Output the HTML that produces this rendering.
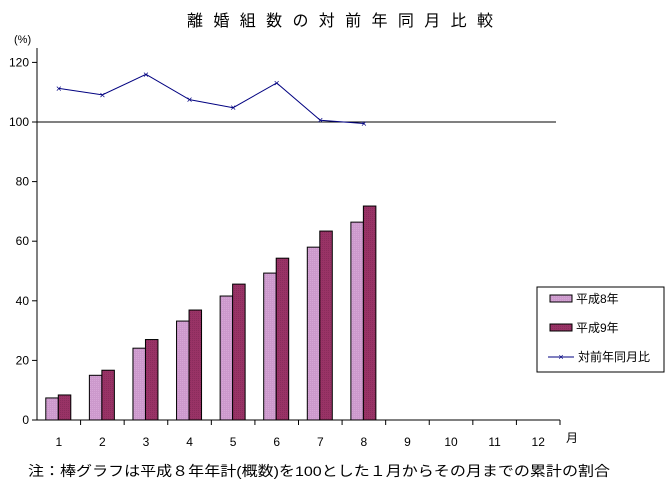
<!DOCTYPE html>
<html><head><meta charset="utf-8"><style>
body{margin:0;background:#fff;}
svg text{font-family:"Liberation Sans","Noto Sans CJK JP",sans-serif;}
</style></head><body>
<svg width="670" height="490" xmlns="http://www.w3.org/2000/svg" id="c">
<defs>
<pattern id="p1" width="2" height="2" patternUnits="userSpaceOnUse"><rect width="2" height="2" fill="#cc99cc"/><rect width="1" height="1" fill="#d6a6d6"/></pattern>
<pattern id="p2" width="2" height="2" patternUnits="userSpaceOnUse"><rect width="2" height="2" fill="#993366"/><rect width="1" height="1" fill="#8a2c5c"/></pattern>
</defs>
<text x="187" y="26" textLength="306" lengthAdjust="spacing" font-size="16">離婚組数の対前年同月比較</text>
<text x="14" y="43" font-size="11">(%)</text>
<g id="plot"></g>
<text x="28" y="476" font-size="14" textLength="582" lengthAdjust="spacingAndGlyphs">注：棒グラフは平成８年年計(概数)を100とした１月からその月までの累計の割合</text>
<g>
<rect x="537" y="287" width="127" height="85" fill="#fff" stroke="#000"/>
<rect x="550" y="295" width="22" height="7" fill="url(#p1)" stroke="#000"/>
<text x="576" y="303" font-size="12">平成8年</text>
<rect x="550" y="324" width="22" height="7" fill="url(#p2)" stroke="#000"/>
<text x="576" y="332" font-size="12">平成9年</text>
<line x1="548" y1="357" x2="574" y2="357" stroke="#000080"/>
<text x="561" y="360" font-size="9" fill="#000080" text-anchor="middle">×</text>
<text x="578" y="361" font-size="12">対前年同月比</text>
</g>
</svg>
<script>
const categories=["1","2","3","4","5","6","7","8","9","10","11","12"];
const h8=[7.4,15.0,24.1,33.2,41.6,49.3,58.0,66.4];
const h9=[8.4,16.7,27.0,36.9,45.6,54.3,63.4,71.8];
const ratio=[111.3,109.1,116.0,107.5,104.8,113.1,100.6,99.5];
const yTicks=[0,20,40,60,80,100,120];
const NS="http://www.w3.org/2000/svg";
const g=document.getElementById('plot');
const x0=37,x1=560,bw=(x1-x0)/categories.length;
const y=v=>420-v*2.98;
const xc=i=>x0+bw*(i+0.5);
function mk(t,a){const e=document.createElementNS(NS,t);for(const k in a)e.setAttribute(k,a[k]);g.appendChild(e);return e;}
let e=mk('line',{x1:x0,y1:48,x2:x0,y2:420,stroke:'#000'});


yTicks.forEach(v=>{
 let t=mk('line',{x1:x0-5,y1:y(v),x2:x0,y2:y(v),stroke:'#000'});
 
 
 let l=mk('text',{x:x0-8,y:y(v)+4,'font-size':12,'text-anchor':'end'});l.textContent=v;
 
 
});
categories.forEach((c,i)=>{
 let t=mk('line',{x1:x0+bw*(i+1),y1:420,x2:x0+bw*(i+1),y2:425,stroke:'#000'});
 
 
 let l=mk('text',{x:xc(i),y:446,'font-size':12,'text-anchor':'middle'});l.textContent=c;
 
 
});
let xu=mk('text',{x:566,y:442,'font-size':12});xu.textContent='月';


h8.forEach((v,i)=>{
 let r=mk('rect',{x:xc(i)-13,y:y(v),width:12.5,height:420-y(v),fill:'url(#p1)',stroke:'#000'});
 
 
});
h9.forEach((v,i)=>{
 let r=mk('rect',{x:xc(i)-0.5,y:y(v),width:12.5,height:420-y(v),fill:'url(#p2)',stroke:'#000'});
 
 
});
let xa=mk('line',{x1:x0,y1:420,x2:x1,y2:420,stroke:'#000'});


let ref=mk('line',{x1:x0,y1:y(100),x2:556,y2:y(100),stroke:'#000'});


let pl=mk('polyline',{points:ratio.map((v,i)=>xc(i)+','+y(v)).join(' '),fill:'none',stroke:'#000080'});


ratio.forEach((v,i)=>{
 let m=mk('text',{x:xc(i),y:y(v)+3.5,'font-size':10,fill:'#000080','text-anchor':'middle'});m.textContent='×';
 
 
});
</script>
</body></html>
